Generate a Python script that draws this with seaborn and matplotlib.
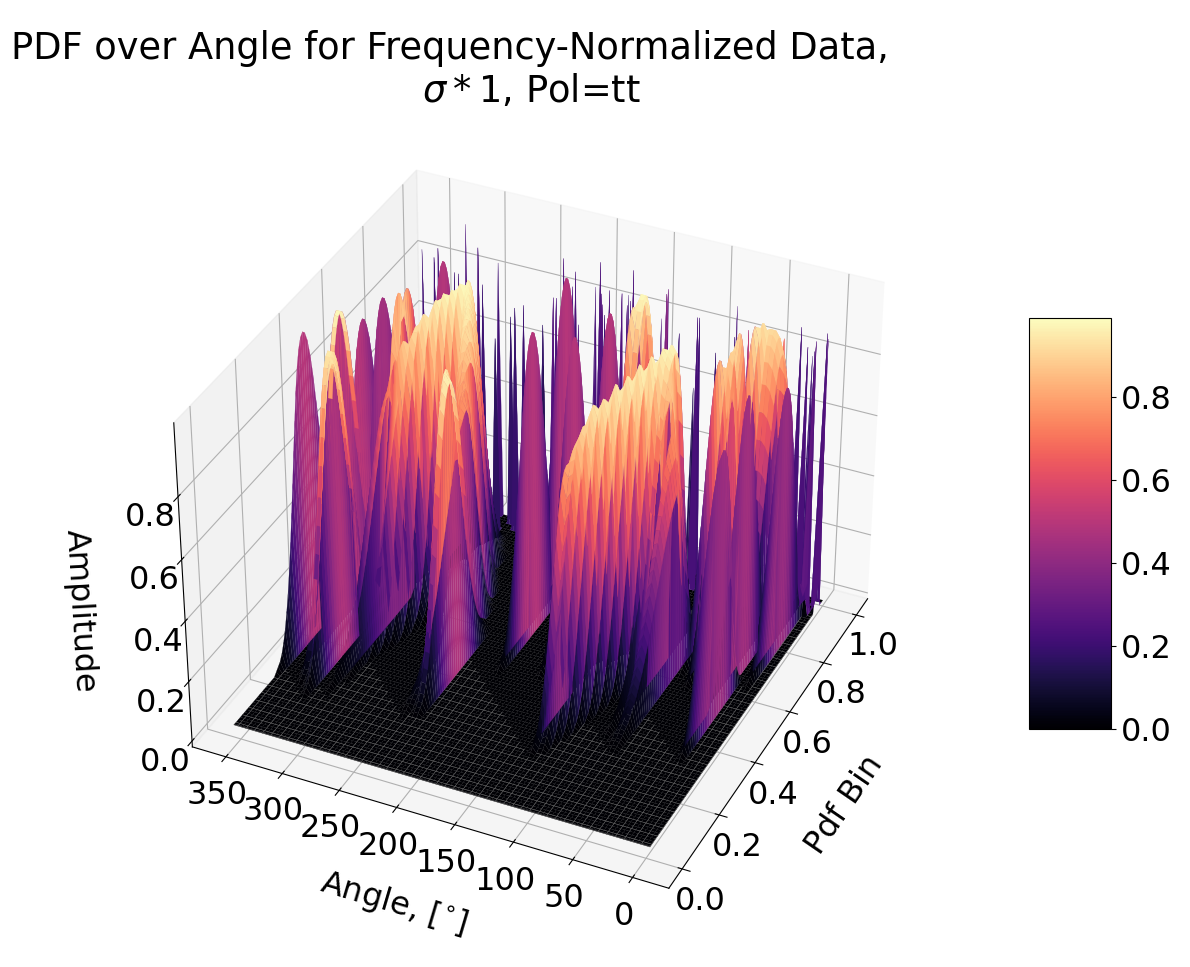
import numpy as np
import seaborn as sns
import matplotlib
matplotlib.use("Agg")
import matplotlib.pyplot as plt

# angle samples, deg
ANGLES = [0, 3.6, 7.3, 10.9, 14.5, 18.2, 21.8, 25.5, 29.1, 32.7,
          36.4, 40, 43.6, 47.3, 50.9, 54.5, 58.2, 61.8, 65.5, 69.1,
          72.7, 76.4, 80, 83.6, 87.3, 90.9, 94.5, 98.2, 101.8, 105.5,
          109.1, 112.7, 116.4, 120, 123.6, 127.3, 130.9, 134.5, 138.2, 141.8,
          145.5, 149.1, 152.7, 156.4, 160, 163.6, 167.3, 170.9, 174.5, 178.2,
          181.8, 185.5, 189.1, 192.7, 196.4, 200, 203.6, 207.3, 210.9, 214.5,
          218.2, 221.8, 225.5, 229.1, 232.7, 236.4, 240, 243.6, 247.3, 250.9,
          254.5, 258.2, 261.8, 265.5, 269.1, 272.7, 276.4, 280, 283.6, 287.3,
          290.9, 294.5, 298.2, 301.8, 305.5, 309.1, 312.7, 316.4, 320, 323.6,
          327.3, 330.9, 334.5, 338.2, 341.8, 345.5, 349.1, 352.7, 356.4, 360]

PDF_BINS = [.02, .022, .024, .03, .04, .05, .06, .07, .08, .09,
            .1, .11, .12, .13, .14, .15, .16, .17, .18, .19,
            .2, .21, .22, .23, .24, .25, .26, .27, .28, .29,
            .3, .31, .32, .33, .34, .35, .36, .37, .38, .39,
            .4, .41, .42, .43, .44, .45, .46, .47, .48, .49,
            .5, .51, .52, .53, .54, .55, .56, .57, .58, .59,
            .6, .61, .62, .63, .64, .65, .66, .67, .68, .69,
            .7, .71, .72, .73, .74, .75, .76, .77, .78, .79,
            .8, .81, .82, .83, .84, .85, .86, .87, .88, .89,
            .9, .91, .92, .93, .94, .95, .96, .97, .98, .99, 1]

# per angle: where the pdf peaks (bin index), how high, which shape
PEAK_BIN = [96, 0, 94, 80, 0, 97, 52, 68, 0, 92,
            92, 92, 92, 90, 88, 76, 84, 82, 78, 0,
            62, 62, 64, 0, 66, 70, 70, 68, 64, 60,
            56, 52, 48, 45, 42, 40, 38, 0, 84, 86,
            86, 84, 0, 76, 0, 90, 64, 0, 94, 0,
            88, 0, 92, 0, 84, 62, 0, 84, 0, 90,
            0, 86, 0, 92, 40, 40, 42, 54, 56, 60,
            62, 64, 66, 68, 70, 72, 74, 72, 70, 68,
            66, 62, 60, 56, 60, 80, 54, 60, 64, 70,
            36, 38, 40, 40, 42, 70, 52, 52, 66, 40]
PEAK_AMP = [.9, 0, .9, .85, 0, .85, .85, .9, 0, .85,
            .9, .92, .92, .95, .95, .9, .95, .9, .9, 0,
            .6, .7, .8, 0, .85, .96, .98, .98, .98, .98,
            .97, .97, .95, .95, .9, .85, .8, 0, .98, .98,
            .98, .95, 0, .98, 0, .9, .98, 0, .9, 0,
            .9, 0, .9, 0, .85, .98, 0, .99, 0, .9,
            0, .9, 0, .85, .95, .97, .97, .75, .8, .85,
            .9, .95, .97, .97, .98, .99, .99, .99, .98, .98,
            .97, .95, .92, .9, .8, .98, .75, .8, .98, .95,
            .95, .95, .95, .95, .9, .9, .98, .98, .85, .99]
PEAK_KIND = ["thin", "thin", "thin", "mid", "thin", "thin", "wide", "mid", "thin", "mid",
             "mid", "mid", "mid", "mid", "mid", "wide", "mid", "mid", "mid", "thin",
             "long", "long", "long", "thin", "long", "wide", "wide", "wide", "wide", "wide",
             "wide", "wide", "wide", "wide", "wide", "mid", "mid", "thin", "mid", "mid",
             "mid", "mid", "thin", "mid", "thin", "thin", "mid", "thin", "thin", "thin",
             "thin", "thin", "thin", "thin", "thin", "mid", "thin", "mid", "thin", "thin",
             "thin", "thin", "thin", "thin", "mid", "mid", "mid", "long", "long", "wide",
             "wide", "wide", "wide", "mid", "mid", "mid", "mid", "mid", "mid", "mid",
             "wide", "wide", "wide", "wide", "long", "mid", "long", "long", "mid", "mid",
             "mid", "mid", "mid", "mid", "mid", "mid", "mid", "mid", "mid", "mid"]

# second, thin peak near the far end of the bins
SPIKE_BIN = [0, 98, 0, 96, 0, 100, 0, 98, 0, 94,
             0, 98, 0, 96, 0, 100, 0, 92, 0, 98,
             0, 94, 0, 100, 0, 96, 0, 98, 0, 92,
             0, 98, 0, 100, 0, 96, 0, 94, 0, 98,
             0, 100, 0, 96, 0, 92, 0, 98, 0, 100,
             0, 94, 0, 96, 0, 98, 0, 100, 0, 92,
             0, 98, 0, 96, 0, 100, 0, 94, 0, 98,
             0, 92, 0, 100, 0, 96, 0, 98, 0, 94,
             0, 100, 0, 96, 0, 98, 0, 92, 0, 100,
             0, 98, 0, 94, 0, 96, 0, 100, 0, 98]
SPIKE_AMP = [0, .9, 0, .85, 0, .8, 0, .9, 0, .7,
             0, .85, 0, .6, 0, .8, 0, .9, 0, .65,
             0, .85, 0, .9, 0, .7, 0, .75, 0, .9,
             0, .85, 0, .6, 0, .8, 0, .95, 0, .9,
             0, .8, 0, .85, 0, .9, 0, .95, 0, .85,
             0, .9, 0, .8, 0, .95, 0, .85, 0, .9,
             0, .9, 0, .95, 0, .7, 0, .6, 0, .7,
             0, .8, 0, .6, 0, .75, 0, .7, 0, .65,
             0, .85, 0, .8, 0, .9, 0, .85, 0, .95,
             0, .8, 0, .9, 0, .85, 0, .8, 0, .85]

SHAPES = {
    "thin": [.1, 1, .1],
    "mid": [.01, .02, .03, .05, .08, .12, .17, .23, .3, .38, .47, .56, .66, .75, .84, .91, .96, .99, 1,
            .99, .96, .91, .84, .75, .66, .56, .47, .38, .3, .23, .17, .12, .08, .05, .03, .02, .01],
    "wide": [.01, .02, .04, .07, .11, .16, .22, .29, .37, .45, .53, .61, .69, .76, .82, .88, .92, .96, .98, .99, 1,
             .99, .96, .9, .82, .72, .6, .48, .36, .25, .16, .09, .04, .01],
    "long": [.01, .01, .02, .02, .03, .04, .05, .06, .08, .1, .12, .14, .17, .2, .23, .27, .31, .35, .4, .45,
             .5, .55, .6, .65, .7, .75, .8, .84, .88, .92, .95, .97, .99, 1, .97, .9, .8, .68, .55, .42, .3, .2, .12, .06, .03, .01],
}

TITLE = "PDF over Angle for Frequency-Normalized Data,\n" + " " * 14 + "$\\sigma*1$, Pol=tt"
FONT = 23

amplitude = np.zeros((len(ANGLES), len(PDF_BINS)))
for i in range(len(ANGLES)):
    shape = SHAPES[PEAK_KIND[i]]
    top = shape.index(1)
    for k in range(len(shape)):
        j = PEAK_BIN[i] - top + k
        if 0 <= j < len(PDF_BINS):
            amplitude[i, j] = PEAK_AMP[i] * shape[k]
    amplitude[i, SPIKE_BIN[i]] = max(amplitude[i, SPIKE_BIN[i]], SPIKE_AMP[i])

plt.rcParams["font.size"] = FONT
fig = plt.figure(figsize=(11.9, 9.67), dpi=100)
ax = fig.add_subplot(projection="3d")
ax.set_position([0.0597, 0.0375, 0.766, 0.837])
ax.computed_zorder = False

X, Y = np.meshgrid(PDF_BINS, ANGLES)
surf = ax.plot_surface(X, Y, amplitude, cmap=sns.color_palette("magma", as_cmap=True),
                       vmin=0, vmax=.99, rcount=100, ccount=101, zorder=1)
surf.set_edgecolor("face")
surf.set_linewidth(.15)

# faint mesh lines, only on the floor that no peak stands in front of
hidden = amplitude > .002
for j in range(1, len(PDF_BINS)):
    hidden[:, j] |= hidden[:, j - 1]
    hidden[1:, j] |= hidden[:-1, j - 1]
flat = np.where(hidden, np.nan, amplitude)
for i in range(0, len(ANGLES), 2):
    ax.plot(X[i], Y[i], flat[i], color="0.4", lw=.4, zorder=2)
for j in range(0, len(PDF_BINS), 3):
    ax.plot(X[:, j], Y[:, j], flat[:, j], color="0.4", lw=.4, zorder=2)

ax.view_init(elev=35, azim=-155)
ax.set_xlim(-.07, 1.07)
ax.set_ylim(-30, 380)
ax.set_zlim(-.02, 1.03)
ax.set_xticks([0, .2, .4, .6, .8, 1])
ax.set_yticks([0, 50, 100, 150, 200, 250, 300, 350])
ax.set_zticks([0, .2, .4, .6, .8])
ax.set_xlabel("Pdf Bin", labelpad=26)
ax.set_ylabel("Angle, [$^{\\circ}$]", labelpad=22)
ax.set_zlabel("Amplitude", labelpad=22)

cax = fig.add_axes([1029 / 1190, (967 - 729) / 967, 82 / 1190, 411 / 967])
fig.colorbar(surf, cax=cax, ticks=[0, .2, .4, .6, .8])

fig.text(450 / 1190, 1 - 70 / 967, TITLE, ha="center", va="center", fontsize=26.5)
fig.savefig("out.png", dpi=100)
